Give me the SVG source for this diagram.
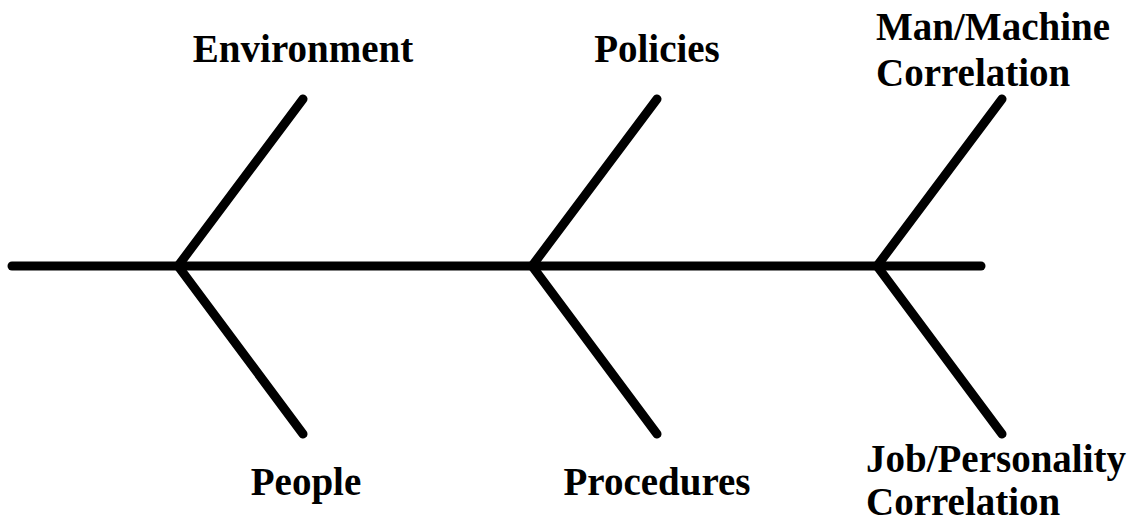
<svg xmlns="http://www.w3.org/2000/svg" width="1135" height="523" viewBox="0 0 1135 523">
  <style>
    .bone { fill: none; stroke: #000; stroke-width: 9; stroke-linecap: round; stroke-linejoin: miter; }
    .lbl { font-family: "Liberation Serif", "Times New Roman", serif; font-weight: bold; font-size: 39px; fill: #000; }
    .mid { text-anchor: middle; }
  </style>
  <rect width="1135" height="523" fill="#fff"/>
  <g id="connectors">
    <path class="bone" d="M12,266 H981"/>
    <path class="bone" d="M303,99 L178,266 L303,434"/>
    <path class="bone" d="M657,99 L532,266 L657,434"/>
    <path class="bone" d="M1002,99 L877,266 L1002,434"/>
  </g>
  <g id="environment"><text class="lbl mid" x="303" y="62">Environment</text></g>
  <g id="policies"><text class="lbl mid" x="657" y="62">Policies</text></g>
  <g id="man-machine"><text class="lbl" x="876" y="40">Man/Machine</text><text class="lbl" x="876" y="86">Correlation</text></g>
  <g id="people"><text class="lbl mid" x="306" y="495">People</text></g>
  <g id="procedures"><text class="lbl mid" x="657" y="495">Procedures</text></g>
  <g id="job-personality"><text class="lbl" x="866" y="472">Job/Personality</text><text class="lbl" x="866" y="515">Correlation</text></g>
</svg>
